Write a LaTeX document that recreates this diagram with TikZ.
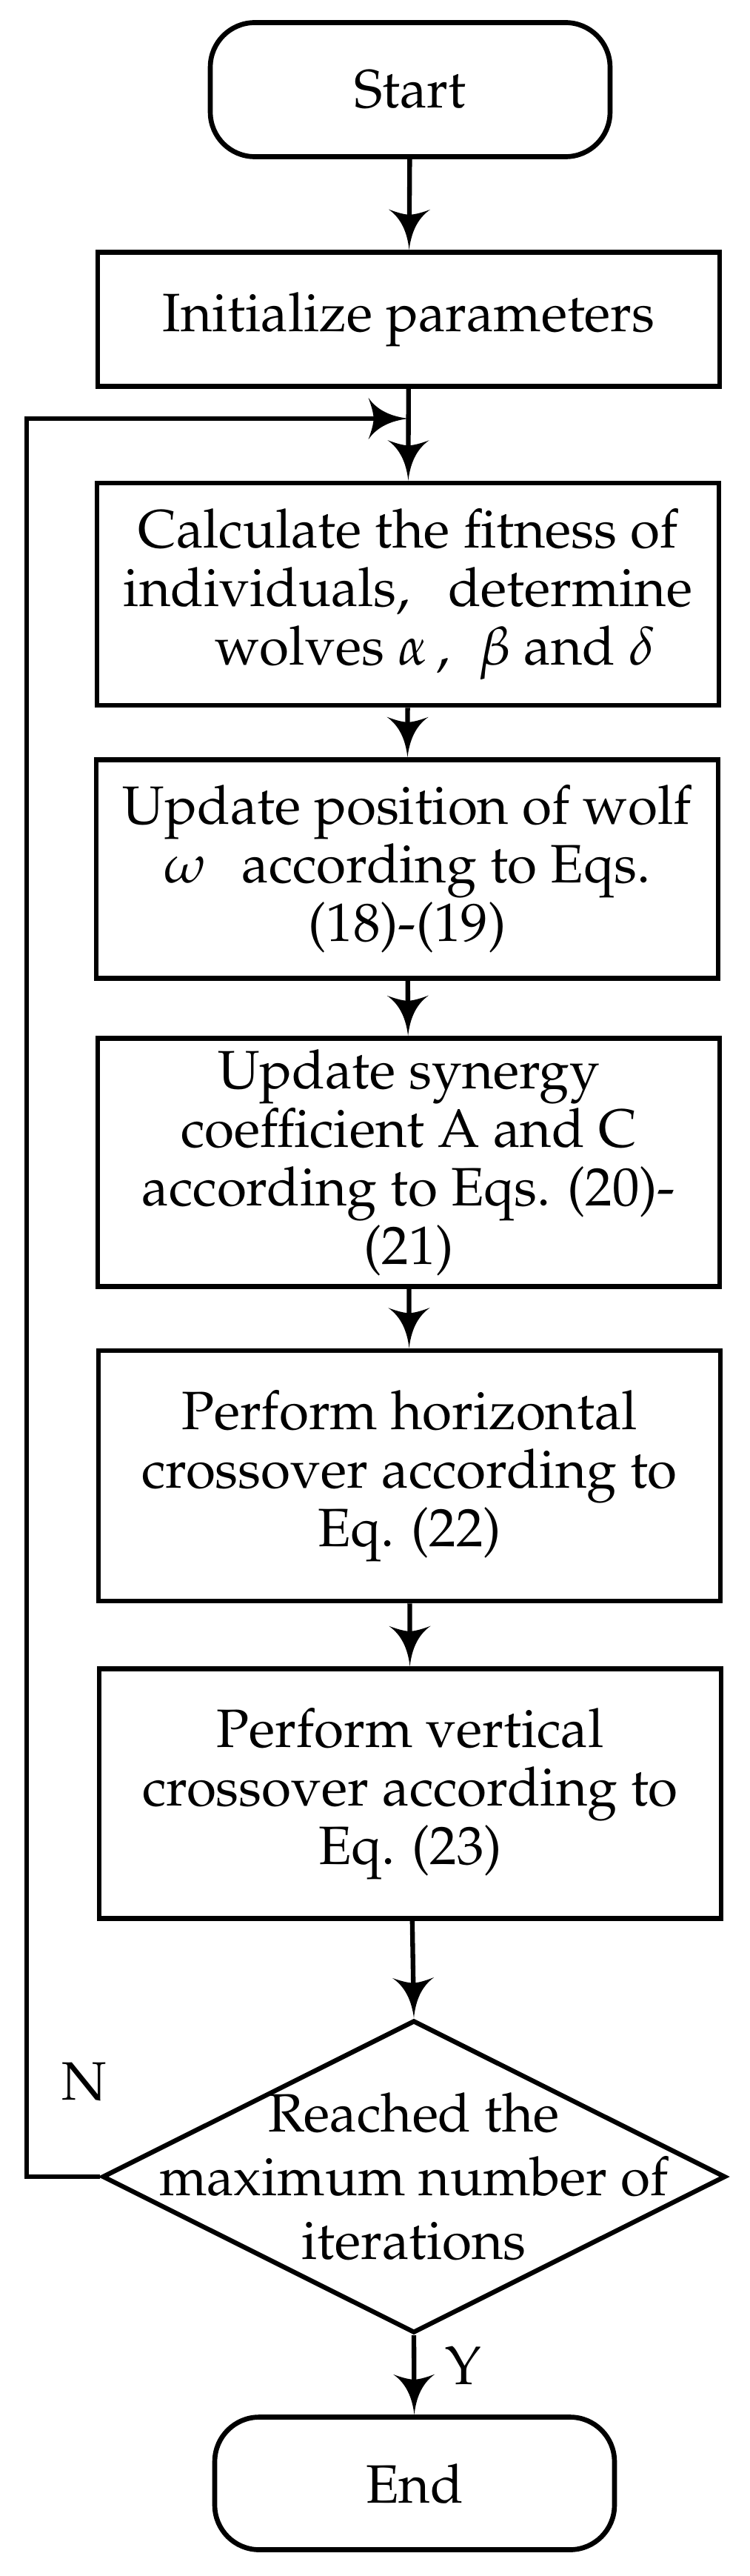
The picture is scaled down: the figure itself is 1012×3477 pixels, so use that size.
\documentclass[tikz,border=0pt]{standalone}
\usepackage[T1]{fontenc}
\usepackage{mathpazo}
\usetikzlibrary{shapes.geometric,arrows.meta}
\pgfdeclarearrow{
  name=Barb,
  setup code={
    \pgfarrowssettipend{0pt}
    \pgfarrowssetbackend{-31pt}
    \pgfarrowssetlineend{-20pt}
    \pgfarrowsupperhullpoint{-31pt}{16pt}
  },
  drawing code={
    \pgfpathmoveto{\pgfpointorigin}
    \pgfpathcurveto{\pgfpoint{-13pt}{1.5pt}}{\pgfpoint{-24pt}{6pt}}{\pgfpoint{-31pt}{16pt}}
    \pgfpathcurveto{\pgfpoint{-28pt}{8pt}}{\pgfpoint{-27pt}{3pt}}{\pgfpoint{-27pt}{0pt}}
    \pgfpathcurveto{\pgfpoint{-27pt}{-3pt}}{\pgfpoint{-28pt}{-8pt}}{\pgfpoint{-31pt}{-16pt}}
    \pgfpathcurveto{\pgfpoint{-24pt}{-6pt}}{\pgfpoint{-13pt}{-1.5pt}}{\pgfpointorigin}
    \pgfpathclose
    \pgfusepathqfill
  }
}
\begin{document}
\begin{tikzpicture}[x=0.02cm,y=-0.02cm,
  txt/.style={font=\fontsize{41.5}{45}\selectfont},
  box/.style={draw,line width=3.8pt,minimum width=16.8cm,align=center,inner sep=0pt,txt},
  term/.style={draw,line width=3.8pt,rounded corners=1.2cm,minimum width=10.8cm,minimum height=3.62cm,inner sep=0pt,txt},
  dec/.style={draw,diamond,line width=3.6pt,minimum width=16.84cm,minimum height=8.44cm,inner sep=0pt},
  arr/.style={line width=3.6pt,-Barb},
  fbarr/.style={line width=3.8pt,-Barb}]
\useasboundingbox (0,0) rectangle (1012,3477);
\node[term] (start) at (554,121) {Start};
\node[box,minimum height=3.62cm] (init) at (552,431) {Initialize parameters};
\node[box,minimum height=6.0cm] (calc) at (551,802) {Calculate the fitness of\\individuals,\hspace{0.7em}determine\\\hspace*{1em}wolves $\alpha$\,,\; $\beta$ and $\delta$};
\node[box,minimum height=5.9cm] (upd) at (550,1173) {Update position of wolf\\$\omega$\hspace{0.65em}according to Eqs.\\(18)-(19)};
\node[box,minimum height=6.7cm] (syn) at (552,1569) {Update synergy\\coefficient A and C\\according to Eqs. (20)-\\(21)};
\node[box,minimum height=6.76cm] (hor) at (553,1992) {Perform horizontal\\crossover according to\\Eq. (22)};
\node[box,minimum height=6.74cm] (ver) at (554,2421) {Perform vertical\\crossover according to\\Eq. (23)};
\node[dec] (dia) at (559,2938) {};
\node[align=center,font=\fontsize{41.5}{49}\selectfont] (diatext) at (dia.center) {Reached the\\maximum number of\\iterations};
\node[term,minimum height=3.58cm] (end) at (560,3352) {End};
\node[txt] (nlab) at (114,2810) {N};
\node[txt] (ylab) at (626,3193) {Y};
\draw[arr] (start) -- (init);
\draw[arr] (init) -- (calc);
\draw[arr] (calc) -- (upd);
\draw[arr] (upd) -- (syn);
\draw[arr] (syn) -- (hor);
\draw[arr] (hor) -- (ver);
\draw[arr] (ver) -- (dia.north);
\draw[arr] (dia.south) -- (end);
\coordinate (fbl) at (36,565);
\coordinate (join) at (init.south |- fbl);
\draw[fbarr] (dia.west) -| (fbl) -- (join);
\end{tikzpicture}
\end{document}
